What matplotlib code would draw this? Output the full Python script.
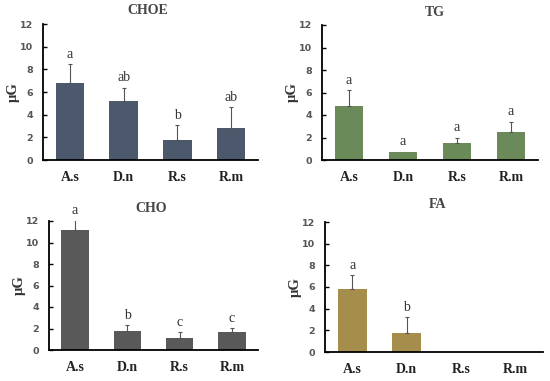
import matplotlib
matplotlib.use("Agg")
import matplotlib.pyplot as plt
import numpy as np

categories = ["A.s", "D.n", "R.s", "R.m"]

choe_vals = [6.77, 5.23, 1.77, 2.82]
choe_err = [1.68, 1.15, 1.32, 1.86]
choe_letters = ["a", "ab", "b", "ab"]

tg_vals = [4.83, 0.74, 1.48, 2.52]
tg_err = [1.39, 0.0, 0.52, 0.88]
tg_letters = ["a", "a", "a", "a"]

cho_vals = [11.2, 1.79, 1.08, 1.70]
cho_err = [0.85, 0.53, 0.62, 0.37]
cho_letters = ["a", "b", "c", "c"]

fa_vals = [5.84, 1.80, 0.0, 0.0]
fa_err = [1.26, 1.41, 0.0, 0.0]
fa_letters = ["a", "b", "", ""]

W, H = 550, 381
fig = plt.figure(figsize=(W / 100, H / 100), dpi=100)
serif = ["Liberation Serif", "DejaVu Serif"]

def add_ax(l, r, t, b):
    return fig.add_axes([l / W, (H - b) / H, (r - l) / W, (b - t) / H])

panels = [
    ("CHOE", choe_vals, choe_err, choe_letters, "#4c586b", (43, 258, 24, 160), (148, 11)),
    ("TG", tg_vals, tg_err, tg_letters, "#6a8a5a", (322, 538, 25, 160), (435, 13)),
    ("CHO", cho_vals, cho_err, cho_letters, "#595959", (49, 258, 221, 350), (151, 208)),
    ("FA", fa_vals, fa_err, fa_letters, "#a58d4c", (325, 543, 222, 352), (438, 205)),
]

for title, vals, errs, letters, color, (l, r, t, b), (tx, ty) in panels:
    ax = add_ax(l, r, t, b)
    x = np.arange(len(categories))
    ax.bar(x, vals, width=0.53, color=color, zorder=2)
    ex = [xi for xi, e in zip(x, errs) if e > 0]
    ev = [v for v, e in zip(vals, errs) if e > 0]
    ee = [e for e in errs if e > 0]
    ax.errorbar(ex, ev, yerr=[np.zeros(len(ee)), np.array(ee)], fmt="none",
                ecolor="#555555", elinewidth=0.8, capsize=1.5, capthick=0.8,
                zorder=3)
    for xi, v, e, lt in zip(x, vals, errs, letters):
        if lt:
            ax.text(xi, v + e + 0.3, lt, ha="center", va="bottom",
                    fontsize=10, family=serif, color="#333333")
    ax.set_xlim(-0.5, 3.5)
    ax.set_ylim(0, 12)
    ax.set_yticks(range(0, 13, 2))
    ax.set_xticks(x)
    ax.set_xticklabels(categories, family=serif, fontsize=10, fontweight="bold",
                       color="#222222")
    ax.tick_params(axis="x", length=0, pad=8)
    ax.tick_params(axis="y", direction="in", length=3, width=1, labelsize=6.8,
                   labelcolor="#555555", pad=7)
    for lab in ax.get_yticklabels():
        lab.set_fontweight("bold")
    ax.set_ylabel("µG", family=serif, fontsize=10.5, fontweight="bold",
                  color="#333333", labelpad=0)
    for s in ["top", "right"]:
        ax.spines[s].set_visible(False)
    ax.spines["left"].set_linewidth(1.3)
    ax.spines["bottom"].set_linewidth(1.3)
    fig.text(tx / W, 1 - ty / H, title, ha="center", va="center",
             family=serif, fontsize=10, fontweight="bold", color="#444444")

fig.savefig("out.png", dpi=100)
